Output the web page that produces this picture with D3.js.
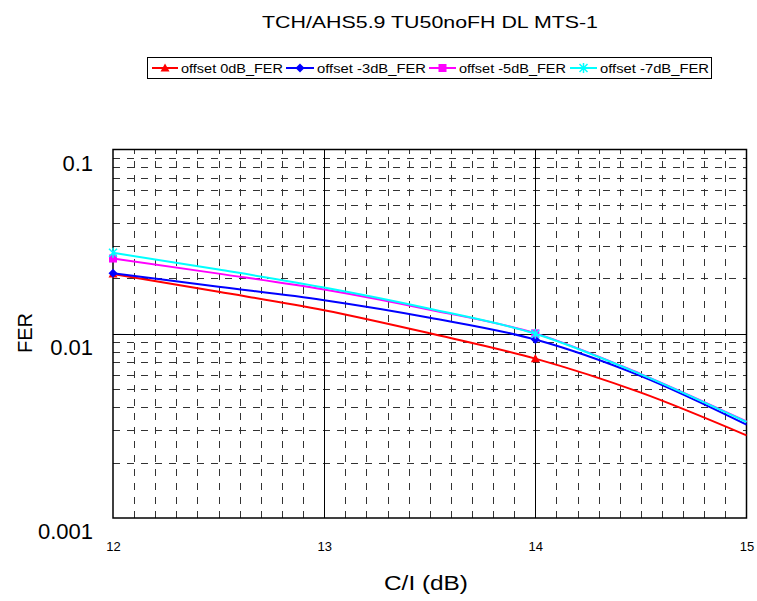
<!DOCTYPE html>
<html><head><meta charset="utf-8">
<script src="https://cdn.jsdelivr.net/npm/d3@7"></script>
<style>body{margin:0;background:#fff}svg{display:block}text{font-family:"Liberation Sans",Arial,sans-serif;fill:#000}</style>
</head><body>
<svg id="c" width="757" height="601"></svg>
<script>
const title = "TCH/AHS5.9 TU50noFH DL MTS-1";
const xLabel = "C/I  (dB)";
const yLabel = "FER";
const ciValues = [12, 12.5, 13, 13.5, 14, 14.5, 15];
const markerAt = [12, 14];
const seriesNames = ["offset 0dB_FER", "offset -3dB_FER", "offset -5dB_FER", "offset -7dB_FER"];
const seriesColors = ["#ff0000", "#0000ff", "#ff00ff", "#00ffff"];
const seriesMarkers = ["triangle", "diamond", "square", "asterisk"];
const fer0 = [0.0211, 0.0169, 0.01342, 0.01006, 0.00733, 0.00479, 0.00281];
const fer3 = [0.0213, 0.0180, 0.01521, 0.01222, 0.00930, 0.00589, 0.00321];
const fer5 = [0.0256, 0.0212, 0.01738, 0.01351, 0.01005, 0.00604, 0.00334];
const fer7 = [0.0275, 0.0223, 0.01782, 0.01367, 0.01000, 0.00602, 0.00332];
const seriesValues = [fer0, fer3, fer5, fer7];
const xTicks = [12, 13, 14, 15];
const yTicks = [0.1, 0.01, 0.001];
const yTickLabels = ["0.1", "0.01", "0.001"];

const svg = d3.select("#c");
const L = 113, R = 746.5, T = 149.5, B = 518;
const x = d3.scaleLinear().domain([12, 15]).range([L, R]);
const y = d3.scaleLog().domain([0.001, 0.1]).range([B, T]);

// title
svg.append("text").attr("x", 262).attr("y", 28).attr("font-size", 17)
  .attr("textLength", 336).attr("lengthAdjust", "spacingAndGlyphs").text(title);

// legend
const lg = svg.append("g");
lg.append("rect").attr("x", 147.5).attr("y", 57.5).attr("width", 564).attr("height", 21)
  .attr("fill", "#fff").attr("stroke", "#000").attr("stroke-width", 1);
const legItems = [
  {l0: 152, l1: 178, t0: 181, t1: 283},
  {l0: 286, l1: 314, t0: 317, t1: 426},
  {l0: 429, l1: 456, t0: 459, t1: 566},
  {l0: 570, l1: 597, t0: 600, t1: 709}
];

function drawMarker(g, type, cx, cy, color) {
  const s = 4.5;
  if (type === "triangle") {
    g.append("path").attr("d", `M${cx},${cy - s}L${cx + s},${cy + s * 0.8}L${cx - s},${cy + s * 0.8}Z`).attr("fill", color);
  } else if (type === "diamond") {
    g.append("path").attr("d", `M${cx},${cy - s}L${cx + s},${cy}L${cx},${cy + s}L${cx - s},${cy}Z`).attr("fill", color);
  } else if (type === "square") {
    g.append("rect").attr("x", cx - 4).attr("y", cy - 4).attr("width", 8).attr("height", 8).attr("fill", color);
  } else {
    const a = 4;
    g.append("path").attr("d", `M${cx - a},${cy - a}L${cx + a},${cy + a}M${cx - a},${cy + a}L${cx + a},${cy - a}M${cx},${cy - a - 1}L${cx},${cy + a + 1}`)
      .attr("stroke", color).attr("stroke-width", 1.5).attr("fill", "none");
  }
}

legItems.forEach((it, i) => {
  lg.append("line").attr("x1", it.l0).attr("x2", it.l1).attr("y1", 68).attr("y2", 68)
    .attr("stroke", seriesColors[i]).attr("stroke-width", 2);
  drawMarker(lg, seriesMarkers[i], (it.l0 + it.l1) / 2, 68, seriesColors[i]);
  lg.append("text").attr("x", it.t0).attr("y", 72.5).attr("font-size", 12)
    .attr("textLength", it.t1 - it.t0).attr("lengthAdjust", "spacingAndGlyphs").text(seriesNames[i]);
});

// grid
const grid = svg.append("g");
const minorX = d3.range(121, 150).map(d => d / 10).filter(v => v % 1 !== 0);
minorX.forEach(v => {
  const px = Math.round(x(v)) + 0.5;
  grid.append("line").attr("x1", px).attr("x2", px).attr("y1", B).attr("y2", T)
    .attr("stroke", "#333").attr("stroke-width", 1).attr("stroke-dasharray", "7,7");
});
const minorY = [];
[0.001, 0.01].forEach(dec => { for (let k = 2; k <= 9; k++) minorY.push(dec * k); });
minorY.forEach(v => {
  const py = Math.round(y(v)) + 0.5;
  grid.append("line").attr("x1", L).attr("x2", R).attr("y1", py).attr("y2", py)
    .attr("stroke", "#333").attr("stroke-width", 1).attr("stroke-dasharray", "7,7");
});
[13, 14].forEach(v => {
  const px = Math.round(x(v)) + 0.5;
  grid.append("line").attr("x1", px).attr("x2", px).attr("y1", B).attr("y2", T).attr("stroke", "#000");
});
{
  const py = Math.round(y(0.01)) + 0.5;
  grid.append("line").attr("x1", L).attr("x2", R).attr("y1", py).attr("y2", py).attr("stroke", "#000");
}
svg.append("rect").attr("x", L).attr("y", T).attr("width", R - L).attr("height", B - T)
  .attr("fill", "none").attr("stroke", "#000").attr("stroke-width", 1.5);

// axes
const yAxis = svg.append("g").attr("transform", `translate(${L},0)`)
  .call(d3.axisLeft(y).tickValues(yTicks).tickSize(0).tickPadding(20)
    .tickFormat((d, i) => yTickLabels[i]));
yAxis.select(".domain").remove();
yAxis.selectAll("text").attr("font-size", 22).attr("dy", "0.95em")
  .attr("font-family", "Liberation Sans, Arial, sans-serif");

const xAxis = svg.append("g").attr("transform", `translate(0,${B})`)
  .call(d3.axisBottom(x).tickValues(xTicks).tickSize(0).tickPadding(24).tickFormat(d3.format("d")));
xAxis.select(".domain").remove();
xAxis.selectAll("text").attr("font-size", 13).attr("font-family", "Liberation Sans, Arial, sans-serif");

svg.append("text").attr("x", 426).attr("y", 590).attr("text-anchor", "middle").attr("font-size", 20)
  .attr("textLength", 84).attr("lengthAdjust", "spacingAndGlyphs").text(xLabel);
svg.append("text").attr("transform", "translate(32,333) rotate(-90)").attr("text-anchor", "middle")
  .attr("font-size", 20).text(yLabel);

// series
const line = d3.line().x(d => x(d[0])).y(d => y(d[1])).curve(d3.curveMonotoneX);
const sg = svg.append("g");
seriesValues.forEach((vals, i) => {
  const pts = ciValues.map((c, j) => [c, vals[j]]);
  sg.append("path").datum(pts).attr("d", line).attr("fill", "none")
    .attr("stroke", seriesColors[i]).attr("stroke-width", 2);
  pts.filter(p => markerAt.includes(p[0])).forEach(p => drawMarker(sg, seriesMarkers[i], x(p[0]), y(p[1]), seriesColors[i]));
});
</script>
</body></html>
